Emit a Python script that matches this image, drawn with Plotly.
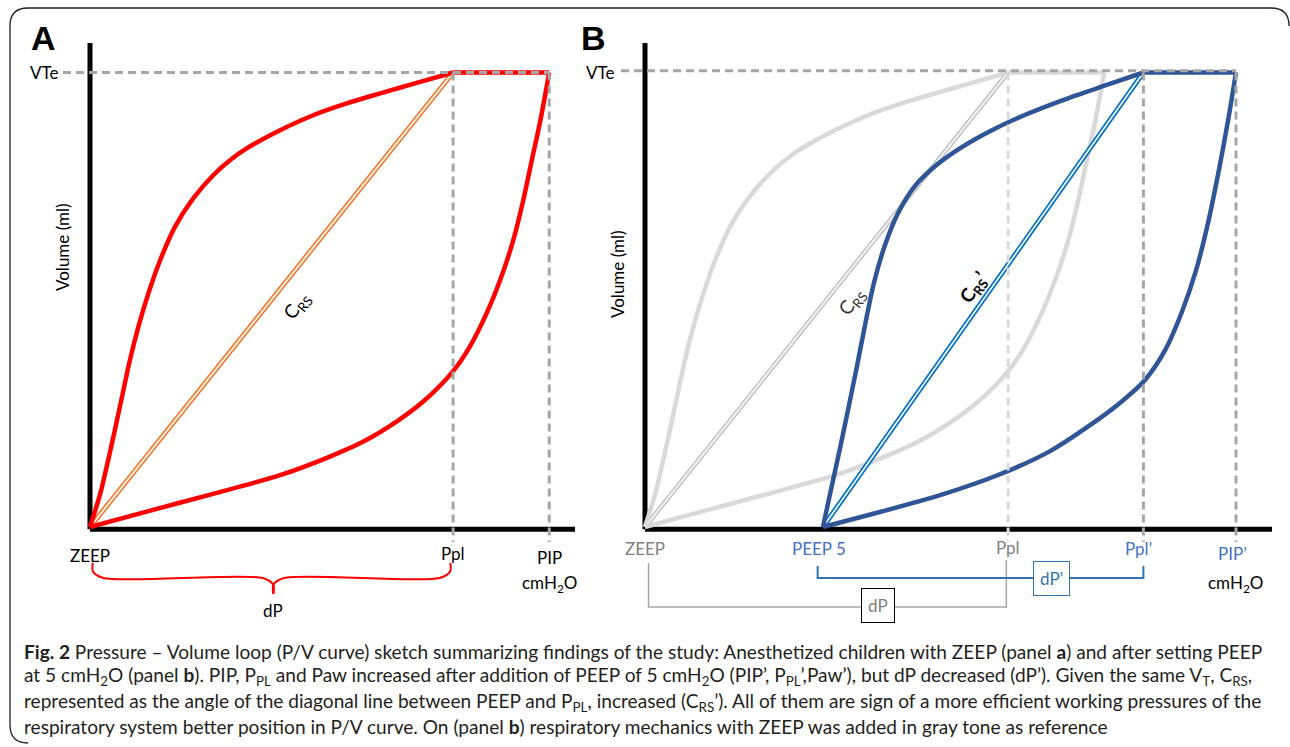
import plotly.graph_objects as go

# ---------------- data (pressure in cmH2O, volume in % of VTe) ----------------
ZEEP = 0.0
PEEP = 5.0
PPL = 10.2
PIP = 12.9
PPL2 = 14.0
PIP2 = 16.6
VTE = 100.0

# ZEEP loop (panel A, grey reference in panel B)
insp_p = [0.0, 1.59, 3.46, 5.34, 6.74, 7.68, 8.61, 9.36, 10.19, 10.67, 11.14, 11.52, 11.89, 12.17, 12.41, 12.64, 12.9]
insp_v = [0, 3.4, 7.3, 11.4, 15.5, 18.8, 23.2, 27.6, 34.2, 39.7, 47.0, 54.3, 63.1, 71.9, 80.7, 89.0, 100]
exp_p = [10.2, 9.08, 8.15, 7.21, 6.27, 5.34, 4.40, 3.93, 3.46, 2.90, 2.39, 1.97, 1.64, 1.36, 1.12, 0.92, 0.72, 0.51, 0.29, 0.0]
exp_v = [100, 97.5, 95.4, 93.2, 90.6, 87.3, 83.3, 80.7, 77.4, 72.3, 66.1, 58.7, 51.4, 44.1, 36.7, 29.4, 22.1, 14.7, 7.4, 0]

# PEEP 5 loop (panel B)
insp2_p = [5.0, 6.60, 8.29, 9.97, 11.38, 12.50, 13.34, 14.04, 14.61, 15.08, 15.48, 15.81, 16.12, 16.38, 16.6]
insp2_v = [0, 3.3, 7.0, 11.6, 16.7, 22.4, 27.3, 32.3, 38.9, 47.3, 56.5, 66.7, 78.5, 89.5, 100]
exp2_p = [14.0, 12.95, 11.80, 10.65, 9.69, 8.90, 8.23, 7.58, 7.11, 6.74, 6.43, 6.18, 5.96, 5.73, 5.48, 5.22, 5.0]
exp2_v = [100, 97.2, 94.1, 90.6, 87.1, 83.6, 79.9, 75.0, 69.1, 62.0, 53.7, 44.4, 35.6, 26.8, 17.4, 8.1, 0]

caption_lines = [
    "<b>Fig. 2</b> Pressure – Volume loop (P/V curve) sketch summarizing findings of the study: Anesthetized children with ZEEP (panel <b>a</b>) and after setting PEEP",
    "at 5 cmH<sub>2</sub>O (panel <b>b</b>). PIP, P<sub>PL</sub> and Paw increased after addition of PEEP of 5 cmH<sub>2</sub>O (PIP’, P<sub>PL</sub>’,Paw’), but dP decreased (dP’). Given the same V<sub>T</sub>, C<sub>RS</sub>,",
    "represented as the angle of the diagonal line between PEEP and P<sub>PL</sub>, increased (C<sub>RS</sub>’). All of them are sign of a more efficient working pressures of the",
    "respiratory system better position in P/V curve. On (panel <b>b</b>) respiratory mechanics with ZEEP was added in gray tone as reference",
]

# ---------------- geometry ----------------
W, H = 1290, 747
PX_X = 35.6     # px per cmH2O
PX_Y = 4.545    # px per volume unit
ORIG_A = 90
ORIG_B = 645
ORIG_Y = 527
XA_PX = (20, 580)
XB_PX = (580, 1285)
Y_PX = (30, 625)

def xr(px_lo, px_hi, orig):
    return [(px_lo - orig) / PX_X, (px_hi - orig) / PX_X]

def yv(py):
    return (ORIG_Y - py) / PX_Y

RED = "#ff0000"
ORANGE = "#ed7d31"
GREY_CURVE = "#d9d9d9"
DASH = "#a6a6a6"
NAVY = "#2f5597"
BLUE2 = "#0070c0"
LBLUE = "#4472c4"
FONT = "Lato"

fig = go.Figure()

def line(x, y, color, width, ax, dash=None, shape="linear"):
    fig.add_trace(go.Scatter(x=x, y=y, mode="lines", xaxis=ax[0], yaxis=ax[1],
                             line=dict(color=color, width=width, dash=dash, shape=shape,
                                       smoothing=0.8 if shape == "spline" else None),
                             hoverinfo="skip", showlegend=False))

A = ("x", "y")
B = ("x2", "y2")
AX_TOP = yv(43)
XA_END = (575 - ORIG_A) / PX_X
XB_END = (1272 - ORIG_B) / PX_X

# axes
for ax, xend in ((A, XA_END), (B, XB_END)):
    line([0, 0], [-0.5, AX_TOP], "black", 5, ax)
    line([0, xend], [-0.5, -0.5], "black", 5, ax)

# ---- panel A ----
line([ZEEP, PPL], [0, VTE], ORANGE, 5, A)
line([ZEEP, PPL], [0, VTE], "white", 1.6, A)
line(insp_p, insp_v, RED, 4.5, A, shape="spline")
line([PPL, PIP], [VTE, VTE], RED, 4.5, A)
line(exp_p, exp_v, RED, 4.5, A, shape="spline")
dash_bottom = yv(542)
line([(63 - ORIG_A) / PX_X, PIP], [VTE, VTE], DASH, 3, A, dash="8px,5px")
line([PPL, PPL], [VTE, dash_bottom], DASH, 3, A, dash="8px,5px")
line([PIP, PIP], [VTE, dash_bottom], DASH, 3, A, dash="8px,5px")

# brace under ZEEP..Ppl
bt, bb, btip = yv(563), yv(578), yv(594)
mid = (ZEEP + PPL) / 2 + 0.05
l0 = ZEEP + 0.08
r0 = PPL - 0.08
line([l0, l0, l0 + 0.3, mid - 0.3, mid, mid], [bt, bb + 1.5, bb, bb, bb - 1.5, btip], RED, 2, A, shape="spline")
line([r0, r0, r0 - 0.3, mid + 0.3, mid, mid], [bt, bb + 1.5, bb, bb, bb - 1.5, btip], RED, 2, A, shape="spline")

# ---- panel B ----
line([ZEEP, PPL], [0, VTE], "#bfbfbf", 4.5, B)
line([ZEEP, PPL], [0, VTE], "white", 1.5, B)
line(insp_p, insp_v, GREY_CURVE, 4.5, B, shape="spline")
line([PPL, PIP], [VTE, VTE], GREY_CURVE, 4.5, B)
line(exp_p, exp_v, GREY_CURVE, 4.5, B, shape="spline")
line([PEEP, PPL2], [0, VTE], BLUE2, 5, B)
line([PEEP, PPL2], [0, VTE], "white", 1.6, B)
line(insp2_p, insp2_v, NAVY, 4.5, B, shape="spline")
line([PPL2, PIP2], [VTE, VTE], NAVY, 4.5, B)
line(exp2_p, exp2_v, NAVY, 4.5, B, shape="spline")
line([(621 - ORIG_B) / PX_X, PIP2], [VTE + 0.4, VTE + 0.4], DASH, 3, B, dash="8px,5px")
line([PPL, PPL], [VTE, dash_bottom], "#d9d9d9", 3, B, dash="8px,5px")
line([PPL2, PPL2], [VTE, dash_bottom], DASH, 3, B, dash="8px,5px")
line([PIP2, PIP2], [VTE, dash_bottom], DASH, 3, B, dash="8px,5px")

# brackets
gl, gr = ZEEP + 0.1, PPL - 0.05
line([gl, gl, gr, gr], [yv(563), yv(607), yv(607), yv(560)], "#a6a6a6", 1.5, B)
bl, br = PEEP - 0.15, PPL2
line([bl, bl, br, br], [yv(566), yv(578), yv(578), yv(566)], "#2e75b6", 2, B)

# ---------------- annotations ----------------
ann = []

def txt(x, y, s, ref, size=17, color="black", **kw):
    d = dict(x=x, y=y, text=s, showarrow=False, xref=ref[0], yref=ref[1],
             font=dict(family=FONT, size=size, color=color), xanchor="center", yanchor="middle")
    d.update(kw)
    ann.append(d)

txt((44 - ORIG_A) / PX_X, VTE, "VTe", A)
txt((600 - ORIG_B) / PX_X, VTE, "VTe", B)
txt((62 - ORIG_A) / PX_X, yv(247), "Volume (ml)", A, textangle=-90)
txt((617 - ORIG_B) / PX_X, yv(274), "Volume (ml)", B, textangle=-90)

txt(ZEEP, yv(555), "ZEEP", A)
txt(PPL, yv(553), "Ppl", A)
txt(PIP, yv(557), "PIP", A)
txt(PIP, yv(584), "cmH<sub>2</sub>O", A)
txt(mid, yv(610), "dP", A)
txt((297 - ORIG_A) / PX_X, yv(306), "C<sub>RS</sub>", A, size=19, textangle=-51)

txt(ZEEP, yv(548), "ZEEP", B, color="#808080")
txt(PEEP - 0.1, yv(548), "PEEP 5", B, color=LBLUE)
txt(PPL, yv(547), "Ppl", B, color="#808080")
txt(PPL2 - 0.15, yv(548), "Ppl’", B, color=LBLUE)
txt(PIP2 - 0.1, yv(553), "PIP’", B, color=LBLUE)
txt(PIP2, yv(584), "cmH<sub>2</sub>O", B)
txt((878 - ORIG_B) / PX_X, yv(605), "dP", B, color="#808080", bgcolor="white",
    bordercolor="black", borderwidth=1, borderpad=6)
txt((1051 - ORIG_B) / PX_X, yv(578), "dP’", B, color="#2e75b6", bgcolor="white",
    bordercolor="#2e75b6", borderwidth=1, borderpad=6)
txt((852 - ORIG_B) / PX_X, yv(302), "C<sub>RS</sub>", B, size=19, color="#333333", textangle=-52)
txt((974 - ORIG_B) / PX_X, yv(288), "<b>C<sub>RS</sub>’</b>", B, size=19, textangle=-55)

# panel letters
for letter, px in (("A", 43), ("B", 593)):
    ann.append(dict(x=px / W, y=1 - 38 / H, xref="paper", yref="paper", text=f"<b>{letter}</b>",
                    showarrow=False, xanchor="center", yanchor="middle",
                    font=dict(family="Liberation Sans", size=34, color="black")))

# caption
for i, s in enumerate(caption_lines):
    ann.append(dict(x=22 / W, y=1 - (651 + 25.3 * i) / H, xref="paper", yref="paper", text=s,
                    showarrow=False, xanchor="left", yanchor="middle", align="left",
                    font=dict(family=FONT, size=19.1, color="#231f20")))

def px(x, y):
    return f"{x / W:.5f},{1 - y / H:.5f}"

border = ("M " + px(1289, 26) + " Q " + px(1289, 8) + " " + px(1271, 8) +
          " L " + px(28, 8) + " Q " + px(10, 8) + " " + px(10, 26) +
          " L " + px(10, 725) + " Q " + px(10, 743) + " " + px(28, 743))

fig.update_layout(
    width=W, height=H, margin=dict(l=0, r=0, t=0, b=0),
    paper_bgcolor="white", plot_bgcolor="white", showlegend=False,
    xaxis=dict(domain=[XA_PX[0] / W, XA_PX[1] / W], range=xr(*XA_PX, ORIG_A), visible=False, fixedrange=True),
    xaxis2=dict(domain=[XB_PX[0] / W, XB_PX[1] / W], range=xr(*XB_PX, ORIG_B), visible=False, fixedrange=True),
    yaxis=dict(domain=[1 - Y_PX[1] / H, 1 - Y_PX[0] / H], range=[yv(Y_PX[1]), yv(Y_PX[0])],
               visible=False, anchor="x", fixedrange=True),
    yaxis2=dict(domain=[1 - Y_PX[1] / H, 1 - Y_PX[0] / H], range=[yv(Y_PX[1]), yv(Y_PX[0])],
                visible=False, anchor="x2", fixedrange=True),
    annotations=ann,
    shapes=[dict(type="path", path=border, xref="paper", yref="paper",
                 line=dict(color="#231f20", width=1.3))],
)

fig.write_html("out.html", config={"displayModeBar": False},
               post_script="document.body.style.margin='0';document.body.style.overflow='hidden';")
